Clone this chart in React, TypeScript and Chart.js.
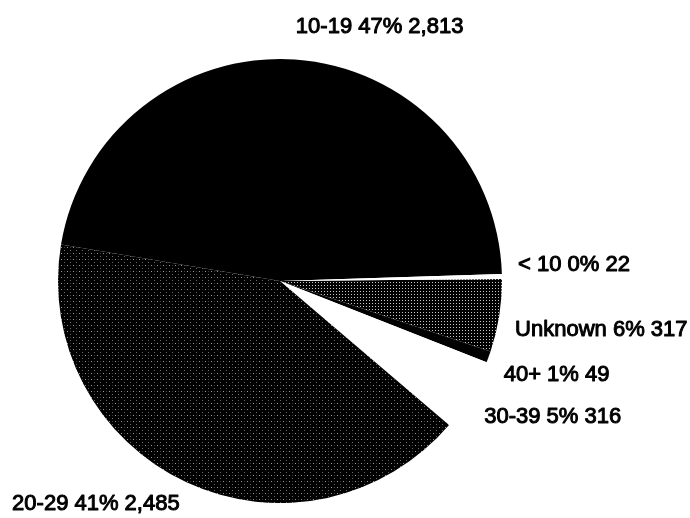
import React, { useEffect, useRef } from 'react';
import { Chart, registerables } from 'chart.js';

Chart.register(...registerables);

// ---- data (natural order, as listed around the pie counter-clockwise) ----
const categories = ['< 10', '10-19', '20-29', '30-39', '40+', 'Unknown'];
const counts = [22, 2813, 2485, 316, 49, 317];
const percentLabels = ['0%', '47%', '41%', '5%', '1%', '6%'];
const fillKinds = ['white', 'black', 'sparseDots', 'white', 'black', 'denseDots'];

const FONT_SIZE = 22;
const FONT = `${FONT_SIZE}px "Liberation Sans", Arial, Helvetica, sans-serif`;

function makeDotPattern(tile: number, dots: Array<[number, number, string]>): CanvasPattern | string {
  const c = document.createElement('canvas');
  c.width = tile;
  c.height = tile;
  const g = c.getContext('2d');
  if (!g) return '#111';
  g.fillStyle = '#000';
  g.fillRect(0, 0, tile, tile);
  dots.forEach(([x, y, col]) => {
    g.fillStyle = col;
    g.fillRect(x, y, 1, 1);
  });
  const p = g.createPattern(c, 'repeat');
  return p || '#111';
}

const sliceLabelPlugin = {
  id: 'sliceLabels',
  afterDatasetsDraw(chart: any, _args: any, opts: any) {
    const ctx = chart.ctx as CanvasRenderingContext2D;
    const meta = chart.getDatasetMeta(0);
    const texts: string[] = chart.data.labels;
    ctx.save();
    ctx.font = opts.font;
    ctx.fillStyle = '#000';
    ctx.strokeStyle = '#000';
    ctx.lineWidth = opts.stroke;
    ctx.lineJoin = 'round';
    meta.data.forEach((arc: any, i: number) => {
      const { x, y, startAngle, endAngle, outerRadius } = arc.getProps(
        ['x', 'y', 'startAngle', 'endAngle', 'outerRadius'],
        true
      );
      const mid = (startAngle + endAngle) / 2;
      const c = Math.cos(mid);
      const s = Math.sin(mid);
      const ax = x + (outerRadius + opts.gapX) * c;
      let ay = y + (outerRadius + opts.gapY) * s;
      ctx.textAlign = c >= 0 ? 'left' : 'right';
      if (s < 0) {
        ctx.textBaseline = 'bottom';
        ay = Math.max(ay, opts.fontSize + 3);
      } else {
        ctx.textBaseline = 'top';
        ay = Math.min(ay, chart.height - opts.fontSize - 3);
      }
      const t = texts[i];
      ctx.strokeText(t, ax, ay);
      ctx.fillText(t, ax, ay);
    });
    ctx.restore();
  },
};

export default function App() {
  const ref = useRef<HTMLCanvasElement | null>(null);

  useEffect(() => {
    if (!ref.current) return;

    const patterns: Record<string, CanvasPattern | string> = {
      white: '#ffffff',
      black: '#000000',
      sparseDots: makeDotPattern(6, [
        [1, 1, '#9a9a9a'],
        [4, 4, '#6a6a6a'],
        [4, 1, '#3a3a3a'],
      ]),
      denseDots: makeDotPattern(3, [[0, 0, '#c8c8c8']]),
    };

    const displayLabels = categories.map(
      (c, i) => `${c} ${percentLabels[i]} ${counts[i].toLocaleString('en-US')}`
    );

    // Chart.js draws clockwise; the original runs counter-clockwise, so reverse.
    const order = categories.map((_, i) => categories.length - 1 - i);
    const labels = order.map((i) => displayLabels[i]);
    const values = order.map((i) => counts[i]);
    const colors = order.map((i) => patterns[fillKinds[i]]);

    const chart = new Chart(ref.current, {
      type: 'pie',
      data: {
        labels,
        datasets: [
          {
            data: values,
            backgroundColor: colors as any,
            borderWidth: 0,
            hoverOffset: 0,
            offset: 0,
          },
        ],
      },
      options: {
        responsive: false,
        animation: false,
        devicePixelRatio: 1,
        rotation: 89.5,
        layout: { padding: { left: 58, right: 188, top: 59, bottom: 15 } },
        plugins: {
          legend: { display: false },
          tooltip: { enabled: false },
          sliceLabels: { font: FONT, fontSize: FONT_SIZE, gapX: 16, gapY: 22, stroke: 1.0 },
        } as any,
        events: [],
      },
      plugins: [sliceLabelPlugin],
    });

    return () => chart.destroy();
  }, []);

  return (
    <canvas
      ref={ref}
      width={690}
      height={518}
      style={{ position: 'absolute', left: 0, top: 0, width: 690, height: 518, display: 'block', background: '#fff' }}
    />
  );
}
